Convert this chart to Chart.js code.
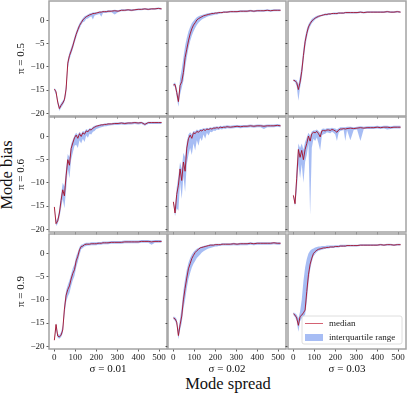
<!DOCTYPE html>
<html><head><meta charset="utf-8">
<script src="https://cdn.jsdelivr.net/npm/chart.js@4.4.0/dist/chart.umd.min.js"></script>
<style>
html,body{margin:0;padding:0;background:#fff;width:409px;height:394px;overflow:hidden;position:relative;font-family:"Liberation Serif","Times New Roman",serif}
canvas{position:absolute}
.lab{position:absolute;font-size:16.5px;line-height:1;color:#111;white-space:nowrap;transform:translate(-50%,-50%)}
#ylab{left:7px;top:175px;transform:translate(-50%,-50%) rotate(-90deg)}
#xlab{left:228px;top:384px}
</style></head><body>
<div class="lab" id="ylab">Mode bias</div>
<div class="lab" id="xlab">Mode spread</div>
<script>
// ---------- data ----------
const xValues = [0,8,16,24,32,40,48,56,64,72,80,88,96,104,112,120,128,136,144,152,160,168,176,184,192,200,208,216,224,232,240,248,256,
  272,288,304,320,336,352,368,384,400,416,432,448,464,480,496,512];
const xTicks = [0,100,200,300,400,500];
const yTicks = [-20,-15,-10,-5,0];
const rowLabels = ['π = 0.5','π = 0.6','π = 0.9'];
const colLabels = ['σ = 0.01','σ = 0.02','σ = 0.03'];
const legendLabels = ['median','interquartile range'];

// pi = 0.5, sigma = 0.01
const med_05_01 = [-14.8,-15.4,-17.6,-19.0,-18.3,-17.8,-17.1,-14.8,-9.2,-7.6,-6.6,-5.5,-4.2,-3.0,-2.0,-1.1,-0.5,0.1,0.5,0.8,1.0,1.2,1.3,1.5,1.5,1.6,1.7,1.8,1.8,1.9,1.9,1.9,2.0,
  2.0,2.1,2.0,2.2,2.2,2.3,2.2,2.3,2.4,2.4,2.5,2.4,2.5,2.5,2.6,2.5];
const lo_05_01 = [-15.2,-16.0,-18.2,-19.5,-18.8,-18.3,-17.6,-16.0,-10.5,-8.4,-7.3,-6.2,-4.9,-3.7,-2.6,-1.8,-1.0,-0.4,-0.2,0.3,0.4,0.7,0.9,0.2,1.1,1.2,1.3,1.4,0.8,1.6,1.6,1.6,1.7,
  1.8,1.3,1.8,2.0,2.0,2.1,2.0,2.1,2.2,2.2,2.3,2.2,2.3,2.3,2.4,2.3];
const hi_05_01 = [-14.5,-15.0,-17.0,-18.5,-17.8,-17.3,-16.6,-13.6,-8.4,-6.9,-5.9,-4.8,-3.5,-2.4,-1.4,-0.6,0.0,0.5,0.9,1.1,1.3,1.5,1.6,1.7,1.8,1.8,1.9,2.0,2.0,2.1,2.1,2.1,2.2,
  2.2,2.3,2.2,2.4,2.4,2.5,2.4,2.5,2.6,2.6,2.7,2.6,2.7,2.7,2.8,2.7];
// pi = 0.5, sigma = 0.02
const med_05_02 = [-13.9,-13.8,-15.5,-17.5,-14.0,-13.2,-11.2,-8.0,-6.2,-4.4,-2.9,-1.8,-1.0,-0.5,0.1,0.4,0.6,0.8,1.0,1.1,1.2,1.3,1.4,1.5,1.5,1.6,1.6,1.7,1.7,1.7,1.8,1.8,1.8,
  1.9,1.9,1.9,2.0,2.0,2.0,2.1,2.0,2.1,2.1,2.1,2.2,2.1,2.2,2.2,2.2];
const lo_05_02 = [-14.2,-14.3,-16.5,-18.6,-16.0,-14.5,-13.0,-10.2,-8.0,-6.0,-4.5,-3.3,-2.4,-1.6,-1.0,-0.5,-0.1,0.2,0.4,0.6,0.8,0.9,1.0,1.1,1.2,1.3,1.3,1.4,1.5,1.5,1.6,1.6,1.6,
  1.7,1.7,1.7,1.8,1.8,1.8,1.9,1.8,1.9,1.9,1.9,2.0,1.9,2.0,2.0,2.0];
const hi_05_02 = [-13.6,-13.4,-14.5,-16.5,-12.5,-10.5,-8.0,-5.5,-3.8,-2.4,-1.4,-0.6,-0.1,0.3,0.7,0.9,1.1,1.2,1.3,1.4,1.5,1.6,1.6,1.7,1.7,1.8,1.8,1.9,1.9,1.9,2.0,2.0,2.0,
  2.1,2.1,2.1,2.2,2.2,2.2,2.3,2.2,2.3,2.3,2.3,2.4,2.3,2.4,2.4,2.4];
// pi = 0.5, sigma = 0.03
const med_05_03 = [-12.9,-13.0,-13.4,-14.9,-13.3,-11.0,-7.6,-4.6,-2.8,-1.4,-0.7,-0.1,0.2,0.5,0.7,0.9,1.0,1.1,1.2,1.3,1.3,1.4,1.4,1.5,1.5,1.5,1.5,1.6,1.6,1.6,1.6,1.7,1.7,
  1.7,1.7,1.7,1.8,1.7,1.8,1.8,1.8,1.8,1.8,1.8,1.9,1.8,1.8,1.9,1.8];
const lo_05_03 = [-13.1,-13.3,-14.2,-17.3,-14.5,-12.5,-9.0,-6.0,-3.8,-2.2,-1.3,-0.6,-0.2,0.2,0.4,0.6,0.8,0.9,1.0,1.1,1.1,1.2,1.2,1.3,1.3,1.3,1.3,1.4,1.4,1.4,1.4,1.5,1.5,
  1.5,1.5,1.5,1.6,1.5,1.6,1.6,1.6,1.6,1.6,1.6,1.7,1.6,1.6,1.7,1.6];
const hi_05_03 = [-12.7,-12.8,-12.9,-13.8,-12.0,-9.5,-6.0,-3.5,-1.9,-0.8,-0.2,0.3,0.6,0.8,1.0,1.1,1.2,1.3,1.4,1.5,1.5,1.6,1.6,1.6,1.7,1.7,1.7,1.8,1.8,1.8,1.8,1.9,1.9,
  1.9,1.9,1.9,2.0,1.9,2.0,2.0,2.0,2.0,2.0,2.0,2.1,2.0,2.0,2.1,2.0];
// pi = 0.6, sigma = 0.01
const med_06_01 = [-15.2,-18.8,-18.2,-16.5,-13.8,-11.5,-12.8,-8.5,-5.0,-6.2,-2.6,-1.4,-0.3,0.3,-0.4,0.6,0.0,0.8,0.5,1.2,1.0,1.5,1.4,1.8,2.0,2.2,2.3,2.4,2.5,2.5,2.6,2.6,2.7,
  2.7,2.8,2.8,2.9,2.8,2.9,2.9,3.0,2.9,3.0,2.6,3.0,3.0,3.0,3.0,3.0];
const lo_06_01 = [-15.8,-19.3,-18.8,-17.5,-15.5,-13.5,-15.5,-11.5,-7.0,-9.0,-5.0,-3.5,-2.0,-1.8,-2.5,-0.8,-1.5,-0.5,-1.2,0.2,-0.3,0.6,0.4,1.0,1.2,1.6,1.7,1.9,2.0,2.1,2.2,2.2,2.3,
  2.4,2.5,2.5,2.6,2.5,2.6,2.6,2.7,2.6,2.7,2.3,2.7,2.7,2.7,2.7,2.7];
const hi_06_01 = [-14.8,-18.2,-17.5,-15.5,-12.5,-10.0,-10.8,-6.8,-3.8,-4.5,-1.7,-0.7,0.2,0.8,0.3,1.0,0.6,1.2,1.0,1.6,1.4,1.8,1.8,2.1,2.3,2.4,2.5,2.6,2.7,2.7,2.8,2.8,2.9,
  2.9,3.0,3.0,3.1,3.0,3.1,3.1,3.2,3.1,3.2,2.9,3.2,3.2,3.2,3.2,3.2];
// pi = 0.6, sigma = 0.02
const med_06_02 = [-14.1,-16.5,-12.5,-10.5,-7.0,-9.5,-5.5,-7.5,-2.5,-0.5,0.3,-0.4,0.8,0.6,1.1,0.9,1.3,1.2,1.5,1.3,1.6,1.5,1.7,1.6,1.8,1.8,1.9,1.8,2.0,1.9,2.0,2.0,2.1,
  2.0,2.1,2.2,2.1,2.2,2.2,2.3,2.2,2.3,2.3,2.2,2.3,2.3,2.3,2.4,2.3];
const lo_06_02 = [-14.5,-17.2,-15.5,-16.0,-10.0,-13.5,-8.5,-12.0,-6.0,-4.0,-2.5,-4.0,-1.5,-3.0,-0.8,-2.0,-0.3,-1.0,0.4,-0.5,0.8,0.2,1.0,0.9,1.3,1.2,1.5,1.4,1.6,1.5,1.7,1.6,1.8,
  1.7,1.8,1.9,1.8,1.9,1.9,2.0,1.9,2.0,2.0,1.6,2.0,2.0,2.0,2.1,2.0];
const hi_06_02 = [-13.7,-15.5,-11.0,-8.5,-5.5,-7.0,-3.5,-4.5,-1.2,0.4,0.9,0.5,1.2,1.1,1.5,1.3,1.6,1.6,1.8,1.7,1.9,1.8,2.0,1.9,2.1,2.1,2.2,2.1,2.3,2.2,2.3,2.3,2.4,
  2.3,2.4,2.5,2.4,2.5,2.5,2.6,2.5,2.6,2.6,2.5,2.6,2.6,2.6,2.7,2.6];
// pi = 0.6, sigma = 0.03
const med_06_03 = [-12.7,-14.5,-9.0,-2.8,-4.5,-3.0,-5.0,-2.8,-1.5,0.1,-1.0,0.6,0.9,0.8,1.1,0.6,-0.1,1.2,1.3,1.2,1.4,1.4,1.3,1.5,1.4,1.2,0.9,1.4,1.6,1.6,1.7,1.6,1.7,
  1.8,1.7,1.8,1.9,1.8,1.9,1.9,1.9,2.0,1.9,2.0,2.0,1.9,2.0,2.0,2.0];
const lo_06_03 = [-13.2,-15.0,-12.0,-6.0,-9.0,-6.0,-10.0,-5.5,-4.0,-1.5,-17.0,-2.5,-0.5,-1.0,-0.2,-1.5,-3.0,0.2,0.5,0.6,0.9,0.8,0.7,1.0,0.8,0.4,-1.0,0.8,1.2,1.3,1.4,-1.0,1.4,
  -0.8,1.4,1.5,-1.0,1.6,1.6,1.6,1.6,1.7,1.6,1.7,1.5,1.6,1.7,1.7,1.7];
const hi_06_03 = [-12.3,-13.8,-6.5,-1.5,-2.5,-1.5,-2.8,-1.2,-0.2,0.8,0.2,1.1,1.3,1.3,1.5,1.2,0.8,1.6,1.7,1.6,1.8,1.8,1.7,1.9,1.8,1.7,1.5,1.8,2.0,2.0,2.0,2.0,2.1,
  2.1,2.0,2.1,2.2,2.1,2.2,2.2,2.2,2.3,2.2,2.3,2.3,2.2,2.3,2.3,2.3];
// pi = 0.9, sigma = 0.01
const med_09_01 = [-18.7,-15.3,-17.8,-18.0,-17.6,-16.5,-12.0,-9.0,-7.8,-7.0,-5.5,-4.3,-3.5,-1.6,-0.6,0.8,1.5,1.6,1.9,2.0,2.0,2.0,2.1,2.1,2.1,2.1,2.2,2.2,2.2,2.3,2.3,2.3,2.3,
  2.4,2.4,2.4,2.4,2.5,2.5,2.5,2.5,2.5,2.6,2.6,2.6,2.5,2.6,2.6,2.6];
const lo_09_01 = [-19.0,-16.5,-18.2,-18.4,-18.0,-17.2,-13.5,-10.5,-9.3,-8.5,-7.0,-5.8,-4.8,-3.0,-1.8,-0.3,0.9,1.2,1.5,1.6,1.7,1.7,1.8,1.8,1.8,1.8,1.9,1.9,1.9,2.0,2.0,2.0,2.0,
  2.1,2.1,2.1,2.1,2.2,2.2,2.2,2.2,2.2,2.3,2.3,2.3,1.9,2.3,2.3,2.3];
const hi_09_01 = [-18.3,-15.0,-17.3,-17.6,-17.0,-15.5,-10.8,-8.0,-6.8,-5.8,-4.5,-3.2,-2.3,-0.6,0.3,1.4,1.9,2.0,2.2,2.3,2.3,2.3,2.4,2.4,2.4,2.4,2.5,2.5,2.5,2.6,2.6,2.6,2.6,
  2.7,2.7,2.7,2.7,2.8,2.8,2.8,2.8,2.8,2.9,2.9,2.9,2.8,2.9,2.9,2.9];
// pi = 0.9, sigma = 0.02
const med_09_02 = [-13.9,-14.1,-14.8,-17.7,-15.4,-13.5,-10.0,-7.5,-5.3,-3.3,-2.2,-1.1,-0.4,0.2,0.6,0.9,1.2,1.3,1.4,1.5,1.6,1.7,1.8,1.8,1.8,1.9,1.9,1.9,1.9,2.0,2.0,2.0,2.0,
  2.0,2.1,2.0,2.1,2.1,2.1,2.2,2.1,2.2,2.2,2.2,2.2,2.2,2.3,2.2,2.2];
const lo_09_02 = [-14.2,-14.5,-15.5,-18.5,-16.5,-15.0,-12.0,-10.0,-7.5,-5.5,-4.2,-3.0,-2.2,-1.6,-1.0,-0.6,-0.2,0.2,0.5,0.7,0.9,1.1,1.2,1.3,1.4,1.5,1.5,1.6,1.6,1.7,1.7,1.7,1.7,
  1.7,1.8,1.7,1.8,1.8,1.8,1.9,1.8,1.9,1.9,1.9,1.9,1.9,2.0,1.9,1.9];
const hi_09_02 = [-13.6,-13.7,-14.2,-16.5,-14.0,-11.5,-8.0,-5.5,-3.5,-2.0,-1.0,-0.2,0.3,0.7,1.0,1.2,1.4,1.5,1.6,1.7,1.8,1.9,2.0,2.0,2.0,2.1,2.1,2.1,2.1,2.2,2.2,2.2,2.2,
  2.2,2.3,2.2,2.3,2.3,2.3,2.4,2.3,2.4,2.4,2.4,2.4,2.4,2.5,2.4,2.4];
// pi = 0.9, sigma = 0.03
const med_09_03 = [-13.0,-13.3,-13.9,-15.5,-13.6,-13.3,-12.8,-12.2,-8.2,-4.6,-2.3,-1.0,0.0,0.4,0.7,0.9,1.0,1.1,1.2,1.2,1.3,1.3,1.4,1.4,1.4,1.5,1.5,1.5,1.6,1.6,1.6,1.6,1.7,
  1.7,1.7,1.7,1.8,1.8,1.8,1.8,1.8,1.8,1.9,1.8,1.9,1.9,1.8,1.9,1.9];
const lo_09_03 = [-13.3,-13.7,-14.6,-16.9,-14.6,-14.0,-13.6,-13.2,-10.5,-6.5,-3.5,-1.8,-0.6,-0.1,0.3,0.6,0.7,0.8,0.9,1.0,1.1,1.1,1.2,1.2,1.2,1.3,1.3,1.3,1.4,1.4,1.4,1.4,1.5,
  1.5,1.5,1.5,1.6,1.6,1.6,1.6,1.6,1.6,1.7,1.6,1.7,1.7,1.6,1.7,1.7];
const hi_09_03 = [-12.7,-12.9,-13.2,-14.0,-12.5,-10.0,-6.0,-3.0,-1.2,0.0,0.6,0.9,1.1,1.3,1.4,1.5,1.5,1.6,1.6,1.6,1.7,1.7,1.7,1.7,1.7,1.8,1.8,1.8,1.9,1.9,1.9,1.9,1.9,
  1.9,1.9,1.9,2.0,2.0,2.0,2.0,2.0,2.0,2.1,2.0,2.1,2.1,2.0,2.1,2.1];

const panelData = [
  [[med_05_01,lo_05_01,hi_05_01],[med_05_02,lo_05_02,hi_05_02],[med_05_03,lo_05_03,hi_05_03]],
  [[med_06_01,lo_06_01,hi_06_01],[med_06_02,lo_06_02,hi_06_02],[med_06_03,lo_06_03,hi_06_03]],
  [[med_09_01,lo_09_01,hi_09_01],[med_09_02,lo_09_02,hi_09_02],[med_09_03,lo_09_03,hi_09_03]]
];

// ---------- style / layout ----------
const FONT = '"Liberation Serif","Times New Roman",serif';
const MED_COLOR = 'rgba(165,15,40,0.9)';
const MED_LEGEND_COLOR = 'rgba(205,70,90,0.85)';
const IQR_COLOR = 'rgba(95,135,235,0.55)';
const FRAME_COLOR = '#a3a3a3';
const COL_LEFT = [49,168,288], ROW_TOP = [1,117,234], PW = 118, PH = 115;
const X_MIN = -25.6, X_MAX = 537.6, Y_MIN = -20.6, Y_MAX = 4.2;

const framePlugin = {
  id: 'frame',
  afterDatasetsDraw(chart) {
    const {ctx, chartArea: a} = chart;
    ctx.save();
    ctx.strokeStyle = FRAME_COLOR; ctx.lineWidth = 1.5;
    ctx.strokeRect(a.left, a.top, a.right - a.left, a.bottom - a.top);
    ctx.restore();
  }
};
const legendPlugin = {
  id: 'boxLegend',
  afterDatasetsDraw(chart) {
    const {ctx, chartArea: a} = chart;
    const w = 100, h = 28, x = a.right - w - 4, y = a.bottom - h - 5;
    ctx.save();
    ctx.beginPath();
    ctx.roundRect(x, y, w, h, 2);
    ctx.fillStyle = 'rgba(255,255,255,0.85)'; ctx.fill();
    ctx.strokeStyle = '#d6d6d6'; ctx.lineWidth = 0.8; ctx.stroke();
    ctx.beginPath(); ctx.moveTo(x + 3, y + 7.5); ctx.lineTo(x + 21, y + 7.5);
    ctx.strokeStyle = MED_LEGEND_COLOR; ctx.lineWidth = 1; ctx.stroke();
    ctx.fillStyle = IQR_COLOR; ctx.fillRect(x + 3, y + 18, 18, 7);
    ctx.fillStyle = '#222'; ctx.font = '9px ' + FONT; ctx.textBaseline = 'middle';
    ctx.fillText(legendLabels[0], x + 27, y + 7.5);
    ctx.fillText(legendLabels[1], x + 27, y + 21.5);
    ctx.restore();
  }
};
const minusFmt = v => v < 0 ? '\u2212' + (-v) : String(v);

function makePanel(r, c) {
  const [med, lo, hi] = panelData[r][c];
  const yw = c === 0 ? 34 : 4, xh = r === 2 ? 27 : 4, pt = 2, pr = 3;
  const cv = document.createElement('canvas');
  cv.width = yw + PW + pr; cv.height = pt + PH + xh;
  cv.style.left = (COL_LEFT[c] - yw) + 'px';
  cv.style.top = (ROW_TOP[r] - pt) + 'px';
  document.body.appendChild(cv);
  const pts = arr => xValues.map((x, i) => ({x: x, y: arr[i]}));
  const tickGrid = {display: true, drawOnChartArea: false, drawTicks: true, tickLength: 2.5, tickColor: '#333', tickWidth: 0.8};
  new Chart(cv, {
    type: 'line',
    data: {datasets: [
      {label: legendLabels[0], data: pts(med), borderColor: MED_COLOR, borderWidth: 1.0, pointRadius: 0, fill: false, tension: 0},
      {label: 'q25', data: pts(lo), borderColor: 'transparent', borderWidth: 0, pointRadius: 0, fill: false},
      {label: legendLabels[1], data: pts(hi), borderColor: 'transparent', borderWidth: 0, pointRadius: 0, fill: '-1', backgroundColor: IQR_COLOR}
    ]},
    options: {
      responsive: false, animation: false, devicePixelRatio: 1,
      layout: {padding: {left: 0, top: pt, right: pr, bottom: 0}},
      plugins: {legend: {display: false}, tooltip: {enabled: false}},
      scales: {
        x: {
          type: 'linear', min: X_MIN, max: X_MAX,
          afterBuildTicks: s => { s.ticks = xTicks.map(v => ({value: v})); },
          afterFit: s => { s.height = xh; s.paddingLeft = 0; s.paddingRight = 0; },
          grid: tickGrid, border: {display: false},
          ticks: {display: r === 2, font: {family: FONT, size: 9}, color: '#222', padding: 1, maxRotation: 0, autoSkip: false, callback: v => String(v)},
          title: {display: r === 2, text: colLabels[c], font: {family: FONT, size: 11}, color: '#111', padding: 0}
        },
        y: {
          type: 'linear', min: Y_MIN, max: Y_MAX,
          afterBuildTicks: s => { s.ticks = yTicks.map(v => ({value: v})); },
          afterFit: s => { s.width = yw; s.paddingTop = 0; s.paddingBottom = 0; },
          grid: tickGrid, border: {display: false},
          ticks: {display: c === 0, font: {family: FONT, size: 9}, color: '#222', padding: 2, callback: minusFmt},
          title: {display: c === 0, text: rowLabels[r], font: {family: FONT, size: 11}, color: '#111', padding: 0}
        }
      }
    },
    plugins: (r === 2 && c === 2) ? [framePlugin, legendPlugin] : [framePlugin]
  });
}
for (let r = 0; r < 3; r++) for (let c = 0; c < 3; c++) makePanel(r, c);
</script>
</body></html>
